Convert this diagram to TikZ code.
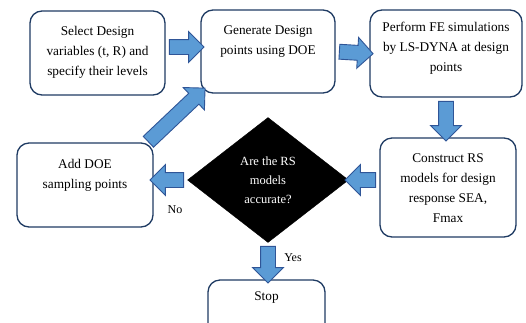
\documentclass[tikz,border=0pt]{standalone}
\usepackage{fontspec}
\setmainfont{Liberation Serif}
\usetikzlibrary{shapes.geometric,shapes.arrows,calc}
\definecolor{boxedge}{HTML}{1F3B63}
\definecolor{arrfill}{HTML}{5B9BD5}
\definecolor{arredge}{HTML}{2F5597}
\newcommand{\blockarrow}[2]{%
  \path let \p1=($#2-#1$), \n1={veclen(\x1,\y1)} in #1 -- #2
    node[barrow, sloped, allow upside down, midway, minimum height=\n1]{};}
\begin{document}
\begin{tikzpicture}[x=1pt,y=-1pt,
  box/.style={draw=boxedge, line width=1.3pt, rounded corners=12pt, fill=white, inner sep=0pt},
  txt/.style={align=center, inner sep=0pt, font=\fontsize{13.3}{20}\selectfont},
  lbl/.style={inner sep=0pt, font=\fontsize{12}{14}\selectfont},
  barrow/.style={single arrow, draw=arredge, fill=arrfill, line width=0.9pt,
    inner xsep=0pt, inner ysep=7pt, single arrow head extend=8pt,
    single arrow head indent=0pt}
]
\useasboundingbox (0,0) rectangle (526,322);
\begin{scope}
\clip (0,0) rectangle (526,322);
% boxes
\node[box, minimum width=135pt, minimum height=84pt] (b1) at (97.5,53) {};
\node[box, minimum width=134pt, minimum height=83pt] (b2) at (268,51.5) {};
\node[box, minimum width=152pt, minimum height=87pt] (b3) at (446,53.5) {};
\node[box, minimum width=136pt, minimum height=99pt] (b4) at (448,187.5) {};
\node[box, minimum width=136pt, minimum height=84pt] (b5) at (85,185) {};
\node[box, minimum width=117pt, minimum height=64pt] (stop) at (266.5,312) {};
\node[diamond, fill=black, draw=black, inner sep=0pt, minimum width=161pt,
  minimum height=125pt, text=white, align=center,
  font=\fontsize{12.5}{19}\selectfont] (d) at (268,180)
  {Are the RS\\models\\accurate?};
\end{scope}
% texts
\node[txt] (t1) at (97.5,52) {Select Design\\variables (t, R) and\\specify their levels};
\node[txt] (t2) at (268,42) {Generate Design\\points using DOE};
\node[txt] (t3) at (446,48) {Perform FE simulations\\by LS-DYNA at design\\points};
\node[txt] (t4) at (448,188) {Construct RS\\models for design\\response SEA,\\Fmax};
\node[txt] (t5) at (85,175) {Add DOE\\sampling points};
\node[txt] (t6) at (266.5,298) {Stop};
\node[lbl] (no) at (175,210) {No};
\node[lbl] (yes) at (293,258) {Yes};
% arrows
\blockarrow{([yshift=6pt]b1.east)}{([yshift=4.5pt]b2.west)}
\blockarrow{(b2.east)}{(b3.west)}
\blockarrow{(b3.south)}{(b3.south |- b4.north)}
\blockarrow{(b4.west |- d.east)}{(d.east)}
\blockarrow{(d.west)}{(d.west -| b5.east)}
\blockarrow{(d.south)}{(d.south |- stop.north)}
\blockarrow{([xshift=-8pt,yshift=-2pt]b5.north east)}{([xshift=2pt,yshift=3pt]b2.south west)}
\end{tikzpicture}
\end{document}
